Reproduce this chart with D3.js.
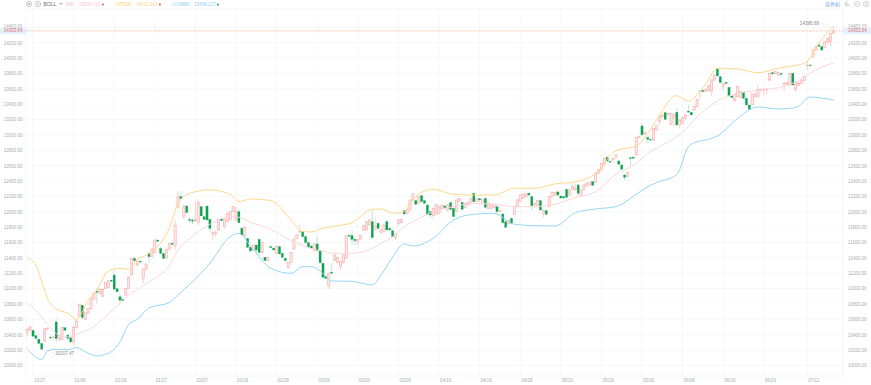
<!DOCTYPE html>
<html>
<head>
<meta charset="utf-8">
<script src="https://cdnjs.cloudflare.com/ajax/libs/d3/7.8.5/d3.min.js"></script>
<style>
  html, body { margin: 0; padding: 0; background: #fff; }
  svg { display: block; font-family: "Liberation Sans", Arial, sans-serif; }
  .wick { stroke-width: .7; }
  .band { fill: none; stroke-width: 1; }
  .grid line { stroke: #f4f5f6; stroke-width: .7; }
  .ticks text { fill: #a9acb0; font-size: 4.5px; }
</style>
</head>
<body>
<svg id="chart" width="871" height="385"></svg>
<script>
const opens = [
  10430,10465,10455,10385,10340,10285,10315,10470,10365,10355,
  10565,10335,10335,10490,10392,10357,10305,10490,10650,10783,
  10600,10683,10740,10857,10966,10935,10900,11000,11015,11109,
  11175,10996,10892,10860,10913,11000,11175,11392,11305,11355,
  11130,11253,11457,11414,11466,11631,11522,11457,11392,11510,
  11590,11553,12056,12195,11935,12074,11900,11892,11880,11857,
  12066,11935,12074,11900,11710,11720,11762,11905,11805,11870,
  11892,12000,11892,12000,11783,11684,11653,11536,11501,11566,
  11640,11471,11406,11363,11545,11527,11458,11545,11458,11393,
  11271,11336,11514,11653,11735,11740,11675,11597,11553,11493,
  11580,11493,11328,11154,11033,11211,11363,11336,11284,11336,
  11393,11690,11688,11640,11610,11645,11762,11762,11827,11870,
  11770,11849,11727,11740,11870,11783,11753,11666,11840,11857,
  12014,11979,12022,12152,12144,12109,12209,12144,12087,12000,
  11948,11970,11979,12044,12074,12022,12118,12044,12000,12131,
  12122,12057,12087,12109,12239,12131,12170,12109,12174,12044,
  12044,12057,12066,12000,11970,11870,11849,11914,11966,12066,
  12131,12174,12196,12239,12196,12087,12087,12144,11970,12014,
  12066,12196,12213,12257,12204,12196,12291,12217,12291,12290,
  12348,12217,12291,12334,12348,12391,12378,12499,12543,12608,
  12708,12655,12680,12708,12660,12608,12478,12456,12703,12710,
  12738,12968,13116,13012,12968,12942,12933,13064,13172,13237,
  13289,13260,13138,13220,13294,13138,13151,13216,13310,13294,
  13324,13367,13563,13580,13563,13575,13575,13714,13858,13758,
  13628,13684,13619,13506,13441,13497,13484,13554,13476,13389,
  13389,13497,13497,13576,13584,13584,13714,13810,13801,13780,
  13800,13660,13662,13650,13801,13593,13650,13671,13706,13900,
  13910,14018,14105,14170,14148,14140,14205,14213,14322
];

const closes = [
  10465,10500,10380,10350,10285,10210,10475,10485,10355,10370,
  10348,10392,10490,10457,10352,10305,10490,10578,10790,10622,
  10683,10740,10870,10935,10950,10990,10990,11080,11100,11095,
  10990,10957,10848,10840,11000,11145,11392,11360,11357,11345,
  11253,11318,11414,11514,11631,11615,11457,11392,11510,11588,
  11575,11818,12195,12170,12074,11987,11885,11875,11900,12118,
  11944,11900,11892,11783,11725,11735,11900,11883,11900,11979,
  12000,12066,12000,11857,11697,11797,11536,11488,11566,11501,
  11467,11597,11363,11406,11532,11501,11545,11450,11406,11363,
  11336,11467,11645,11697,11745,11675,11597,11536,11527,11580,
  11493,11336,11146,11132,11198,11198,11436,11406,11350,11436,
  11684,11680,11640,11623,11640,11688,11814,11870,11892,11662,
  11814,11783,11770,11827,11762,11762,11675,11710,11892,11900,
  11970,12022,12152,12230,12096,12196,12131,12109,11966,11957,
  12044,12096,12066,12087,12053,12087,12031,11935,12152,12174,
  12031,12109,12122,12174,12131,12165,12152,12161,12057,12109,
  12087,12087,12000,12020,11857,11796,11883,11849,12066,12152,
  12217,12230,12230,12217,12079,12109,12144,12022,12014,11966,
  12196,12248,12252,12217,12178,12178,12187,12282,12334,12310,
  12239,12282,12348,12369,12378,12343,12499,12543,12630,12695,
  12660,12645,12690,12738,12617,12552,12447,12508,12690,12695,
  12968,12977,13000,13029,12942,12933,13085,13116,13246,13259,
  13202,13282,13281,13260,13129,13194,13224,13259,13296,13259,
  13367,13463,13575,13565,13593,13636,13714,13780,13767,13680,
  13671,13670,13506,13489,13532,13628,13563,13476,13389,13333,
  13532,13532,13593,13593,13595,13595,13801,13794,13823,13810,
  13788,13671,13680,13801,13650,13680,13671,13714,13758,13910,
  13900,14105,14148,14155,14105,14213,14257,14322,14353.64
];

const highs = [
  10490,10510,10465,10390,10350,10295,10480,10490,10390,10380,
  10610,10400,10500,10500,10400,10365,10520,10590,10800,10790,
  10700,10750,10880,10950,11000,11000,11010,11090,11110,11115,
  11230,11005,10935,10870,11010,11160,11400,11410,11370,11375,
  11265,11330,11470,11525,11640,11640,11545,11465,11520,11595,
  11600,11890,12270,12270,12085,12090,11935,11915,12130,12150,
  12075,11945,12080,11905,11745,11750,11910,11915,11915,11990,
  12010,12075,12060,12035,11790,11805,11660,11545,11575,11575,
  11650,11605,11415,11415,11555,11535,11555,11555,11465,11400,
  11345,11475,11655,11705,11830,11750,11685,11610,11565,11590,
  11675,11500,11335,11165,11210,11328,11450,11415,11360,11445,
  11695,11710,11762,11645,11650,11695,11830,11880,11900,12013,
  11914,11860,11780,11840,11900,11790,11760,11720,11900,11910,
  12020,12030,12160,12240,12150,12205,12220,12150,12095,12005,
  12055,12105,12075,12095,12085,12095,12125,12050,12160,12185,
  12130,12120,12130,12185,12250,12175,12180,12170,12185,12120,
  12095,12095,12075,12030,11975,11875,11890,11920,12075,12165,
  12225,12240,12240,12245,12205,12115,12155,12150,12025,12020,
  12205,12260,12265,12270,12215,12205,12300,12290,12345,12360,
  12355,12295,12360,12380,12390,12400,12510,12555,12640,12710,
  12720,12665,12700,12750,12670,12615,12490,12520,12715,12720,
  12975,12985,13150,13040,12975,12950,13095,13125,13255,13270,
  13300,13295,13290,13280,13345,13205,13235,13270,13395,13300,
  13378,13475,13585,13590,13605,13650,13725,13790,13870,13765,
  13680,13695,13625,13515,13540,13640,13572,13565,13485,13395,
  13540,13545,13650,13605,13610,13605,13810,13820,13835,13825,
  13810,13680,13690,13810,13810,13690,13685,13725,13770,13955,
  13920,14115,14160,14210,14155,14225,14270,14335,14396.69
];

const lows = [
  10370,10450,10370,10340,10270,10207.47,10300,10460,10325,10340,
  10305,10310,10320,10440,10330,10290,10260,10480,10630,10600,
  10590,10670,10730,10850,10805,10925,10890,10990,11000,11085,
  10980,10945,10805,10830,10905,10990,11165,11350,11290,11320,
  11066,11240,11340,11405,11455,11600,11445,11385,11385,11500,
  11560,11507,12030,12140,11900,11975,11850,11840,11870,11825,
  11935,11890,11880,11740,11630,11670,11750,11875,11780,11850,
  11880,11990,11880,11850,11690,11675,11530,11480,11480,11440,
  11425,11460,11355,11350,11525,11490,11450,11440,11385,11350,
  11260,11330,11505,11645,11725,11665,11585,11525,11515,11485,
  11485,11330,11130,11120,10990,11185,11355,11325,11240,11325,
  11380,11670,11565,11565,11565,11635,11750,11750,11815,11650,
  11760,11775,11715,11730,11750,11750,11665,11630,11830,11845,
  11960,11970,12015,12145,12085,12100,12125,12100,11960,11915,
  11905,11960,11970,12035,12040,12010,12020,11930,11990,12120,
  12020,12045,12075,12100,12120,12120,12140,12100,12045,12035,
  12030,12045,11957,11990,11850,11790,11840,11840,11955,12055,
  12120,12165,12185,12205,12014,12060,12075,12015,11922,11955,
  12055,12185,12205,12205,12165,12165,12175,12205,12280,12270,
  12200,12200,12280,12325,12340,12335,12370,12490,12535,12600,
  12650,12630,12650,12695,12610,12545,12413,12445,12586,12685,
  12730,12960,12990,13000,12890,12920,12920,13055,13130,13225,
  13190,13250,13125,13100,13120,13090,13140,13205,13285,13250,
  13310,13355,13470,13550,13550,13565,13500,13705,13760,13670,
  13563,13660,13500,13480,13430,13485,13475,13465,13380,13320,
  13380,13485,13485,13565,13510,13520,13705,13780,13790,13760,
  13760,13563,13650,13640,13640,13560,13640,13660,13695,13845,
  13885,14005,14095,14140,14085,14130,14195,14148,14310
];

const bandIndex = [
  0,3,5,7,10, 14,17,21,24,28, 32,35,38,42,49, 52,56,63,70,73,
  77,84,91,95,98, 102,105,112,119,122, 126,130,133,140,147, 154,161,168,175,182,
  189,196,203,210,214, 217,224,228,231,234, 238,245,252,259,263, 266,270,273,278
];
const upperBand = [
  11400,11305,11087,10870,10731, 10678,10596,10840,10979,11227, 11261,11250,11379,11453,11784, 12109,12239,12283,12226,12131,
  12165,12144,11892,11740,11736, 11784,11805,11857,12030,12035, 11979,12000,12165,12291,12226, 12217,12217,12304,12304,12361,
  12387,12499,12794,12855,13020, 13194,13511,13441,13520,13663, 13867,13858,13810,13867,13895, 13910,13997,14192,14411.813
];
const midBand = [
  10805,10718,10622,10535,10413, 10370,10409,10457,10531,10674, 10805,10913,10987,11087,11297, 11501,11649,11836,11935,11927,
  11862,11770,11623,11566,11519, 11488,11458,11458,11523,11588, 11675,11805,11870,12000,12066, 12109,12096,12066,12066,12096,
  12183,12261,12486,12630,12760, 12825,12976,13107,13237,13333, 13441,13541,13580,13615,13658, 13706,13802,13867,13934.015
];
const lowerBand = [
  10209,10109,10074,10187,10209, 10204,10231,10157,10122,10157, 10304,10531,10600,10748,10816, 10916,11054,11328,11675,11718,
  11553,11263,11198,11284,11284, 11198,11098,11093,11046,11176, 11406,11580,11553,11653,11892, 11966,11979,11836,11818,11814,
  11987,12035,12065,12226,12326, 12378,12482,12846,12911,12933, 12985,13215,13363,13337,13345, 13372,13493,13484,13456.217
];

const dateLabels = ["12/27","01/06","01/18","01/27","02/07","02/16","02/28","03/09","03/20","03/29",
  "04/10","04/19","04/28","05/10","05/19","05/30","06/08","06/20","06/29","07/12"];
const dateIndex = [2,16,30,44,58,72,86,100,114,128,142,156,170,184,198,212,226,240,254,269];
const priceTicks = d3.range(10000, 14401, 200);

const lastPrice = 14353.64,
      highest = 14396.69,
      lowest = 10207.47;

const legendItems = [
  { key: "MID:", value: "13934.015", colour: "#f9c6d0", mark: "#ee5a5a", x: 66, vx: 79, mx: 102 },
  { key: "UPPER:", value: "14411.813", colour: "#fbd67f", mark: "#ee5a5a", x: 115, vx: 136, mx: 159 },
  { key: "LOWER:", value: "13456.217", colour: "#8fd0f0", mark: "#21ab5a", x: 172, vx: 194, mx: 217 }
];

const plotLeft = 26, plotRight = 843, plotTop = 9, plotBottom = 376;

const root = d3.select("#chart");

const x = d3.scaleLinear().domain([0, 278]).range([27.2, 833.4]);
const y = d3.scaleLinear().domain([10000, 14200]).range([365.3, 42.7]);

// grid
const grid = root.append("g").attr("class", "grid");

grid.selectAll(".h")
    .data(priceTicks)
  .enter().append("line")
    .attr("class", "h")
    .attr("x1", plotLeft)
    .attr("x2", plotRight)
    .attr("y1", d => y(d))
    .attr("y2", d => y(d));

grid.selectAll(".v")
    .data(dateIndex)
  .enter().append("line")
    .attr("class", "v")
    .attr("x1", d => x(d))
    .attr("x2", d => x(d))
    .attr("y1", plotTop)
    .attr("y2", plotBottom);

root.append("rect")
    .attr("x", plotLeft)
    .attr("y", plotTop)
    .attr("width", plotRight - plotLeft)
    .attr("height", plotBottom - plotTop)
    .attr("fill", "none")
    .attr("stroke", "#f0f1f2")
    .attr("stroke-width", .7);

// price ticks on both sides, the top one sits half behind the price tag
const tickFormat = d3.format(".2f");

function tidyAxis(g) {
  g.select(".domain").remove();
  g.selectAll(".tick text").filter(d => d === 14400).attr("y", -1.2);
}

root.append("g")
    .attr("class", "ticks")
    .attr("transform", `translate(${plotRight},0)`)
    .call(d3.axisRight(y).tickValues(priceTicks).tickSize(0).tickPadding(5).tickFormat(tickFormat))
    .call(tidyAxis);

root.append("g")
    .attr("class", "ticks")
    .attr("transform", `translate(${plotLeft},0)`)
    .call(d3.axisLeft(y).tickValues(priceTicks).tickSize(0).tickPadding(3.5).tickFormat(tickFormat))
    .call(tidyAxis);

root.append("g")
    .attr("class", "ticks")
  .selectAll("text")
    .data(dateIndex)
  .enter().append("text")
    .attr("x", d => x(d) + 1)
    .attr("y", 381.5)
    .text((d, i) => dateLabels[i]);

// candles
const candles = d3.range(opens.length).map(i => ({
  i, open: opens[i], close: closes[i], high: highs[i], low: lows[i], up: closes[i] >= opens[i]
}));

const candle = root.append("g").selectAll("g")
    .data(candles)
  .enter().append("g");

candle.append("line")
    .attr("class", "wick")
    .attr("x1", d => x(d.i))
    .attr("x2", d => x(d.i))
    .attr("y1", d => y(d.high))
    .attr("y2", d => y(d.low))
    .attr("stroke", d => d.up ? "#f9bcbc" : "#a3dcb9");

candle.append("rect")
    .attr("x", d => x(d.i) - 1.1)
    .attr("width", 2.2)
    .attr("y", d => y(Math.max(d.open, d.close)))
    .attr("height", d => Math.max(.6, Math.abs(y(d.open) - y(d.close))))
    .attr("fill", d => d.up ? "#fde6e6" : "#0ba350")
    .attr("stroke", d => d.up ? "#f8aeae" : "#0ba350")
    .attr("stroke-width", d => d.up ? .6 : .2);

// bands
const bandLine = d3.line()
    .x((d, i) => x(bandIndex[i]))
    .y(d => y(d))
    .curve(d3.curveMonotoneX);

[[upperBand, "#fdd98a"], [midBand, "#fdd6de"], [lowerBand, "#96d6f5"]].forEach(([values, colour]) => {
  root.append("path")
      .attr("class", "band")
      .attr("stroke", colour)
      .attr("d", bandLine(values));
});

// last price line and its tags
root.append("line")
    .attr("x1", plotLeft)
    .attr("x2", plotRight)
    .attr("y1", y(lastPrice))
    .attr("y2", y(lastPrice))
    .attr("stroke", "#f8c6a8")
    .attr("stroke-width", 1)
    .attr("stroke-dasharray", "1.5,1");

[[0, plotLeft], [plotRight, 871 - plotRight]].forEach(([tagX, tagW]) => {
  root.append("rect")
      .attr("x", tagX)
      .attr("y", y(lastPrice) - 3.4)
      .attr("width", tagW)
      .attr("height", 6.8)
      .attr("fill", "#e4f1fc");
  root.append("text")
      .attr("x", tagX === 0 ? 22.5 : 848)
      .attr("y", y(lastPrice))
      .attr("dy", ".35em")
      .attr("text-anchor", tagX === 0 ? "end" : "start")
      .attr("font-size", 4.5)
      .attr("fill", "#e0686f")
      .text(lastPrice.toFixed(2));
});

// high and low notes
function note(index, value, textX, textY, label) {
  root.append("line")
      .attr("x1", x(index))
      .attr("y1", y(value))
      .attr("x2", textX)
      .attr("y2", textY)
      .attr("stroke", "#dcdde0")
      .attr("stroke-width", .4);
  root.append("text")
      .attr("x", textX + (index > 100 ? -1 : 1))
      .attr("y", textY)
      .attr("dy", ".35em")
      .attr("text-anchor", index > 100 ? "end" : "start")
      .attr("font-size", 4.6)
      .attr("fill", "#85888c")
      .text(label);
}
note(278, highest, 820, 23, highest.toFixed(2));
note(5, lowest, 54, 353, lowest.toFixed(2));

// header
const head = root.append("g").attr("font-size", 4.6);

[29, 38].forEach(cx => {
  head.append("circle")
      .attr("cx", cx).attr("cy", 4).attr("r", 2.6)
      .attr("fill", "none").attr("stroke", "#a9adb3").attr("stroke-width", .6);
  head.append("circle")
      .attr("cx", cx).attr("cy", 4).attr("r", 1)
      .attr("fill", cx === 29 ? "#b9bdc2" : "none").attr("stroke", "#a9adb3").attr("stroke-width", .4);
});

head.append("text")
    .attr("x", 43.5).attr("y", 5.6)
    .attr("font-size", 5)
    .attr("fill", "#6d7075")
    .text("BOLL");

head.append("path")
    .attr("d", d3.line()([[59, 3], [63, 3], [61, 5]]))
    .attr("fill", "#aeb1b6");

legendItems.forEach(d => {
  head.append("text").attr("x", d.x).attr("y", 5.6).attr("fill", d.colour).text(d.key);
  head.append("text").attr("x", d.vx).attr("y", 5.6).attr("fill", d.colour).text(d.value);
  head.append("rect")
      .attr("x", d.mx).attr("y", 3.6)
      .attr("width", 1.8).attr("height", 1.8)
      .attr("fill", d.mark);
});

root.append("text")
    .attr("x", 825)
    .attr("y", 6)
    .attr("font-family", '"Noto Sans CJK SC"')
    .attr("font-size", 5)
    .attr("fill", "#6aa5e6")
    .text("前复权");

// undo, zoom out, zoom in
root.append("path")
    .attr("d", "M846 2.5 L846 4.5 L849 4.5 A2 2 0 1 1 848 2.2")
    .attr("fill", "none").attr("stroke", "#b5b8bc").attr("stroke-width", .6);

[857, 866].forEach((cx, i) => {
  root.append("circle")
      .attr("cx", cx).attr("cy", 4).attr("r", 2.6)
      .attr("fill", "none").attr("stroke", "#b5b8bc").attr("stroke-width", .6);
  root.append("path")
      .attr("d", i === 0 ? `M${cx - 1.3} 4 H${cx + 1.3}` : `M${cx - 1.3} 4 H${cx + 1.3} M${cx} 2.7 V5.3`)
      .attr("stroke", "#b5b8bc").attr("stroke-width", .5);
});
</script>
</body>
</html>
